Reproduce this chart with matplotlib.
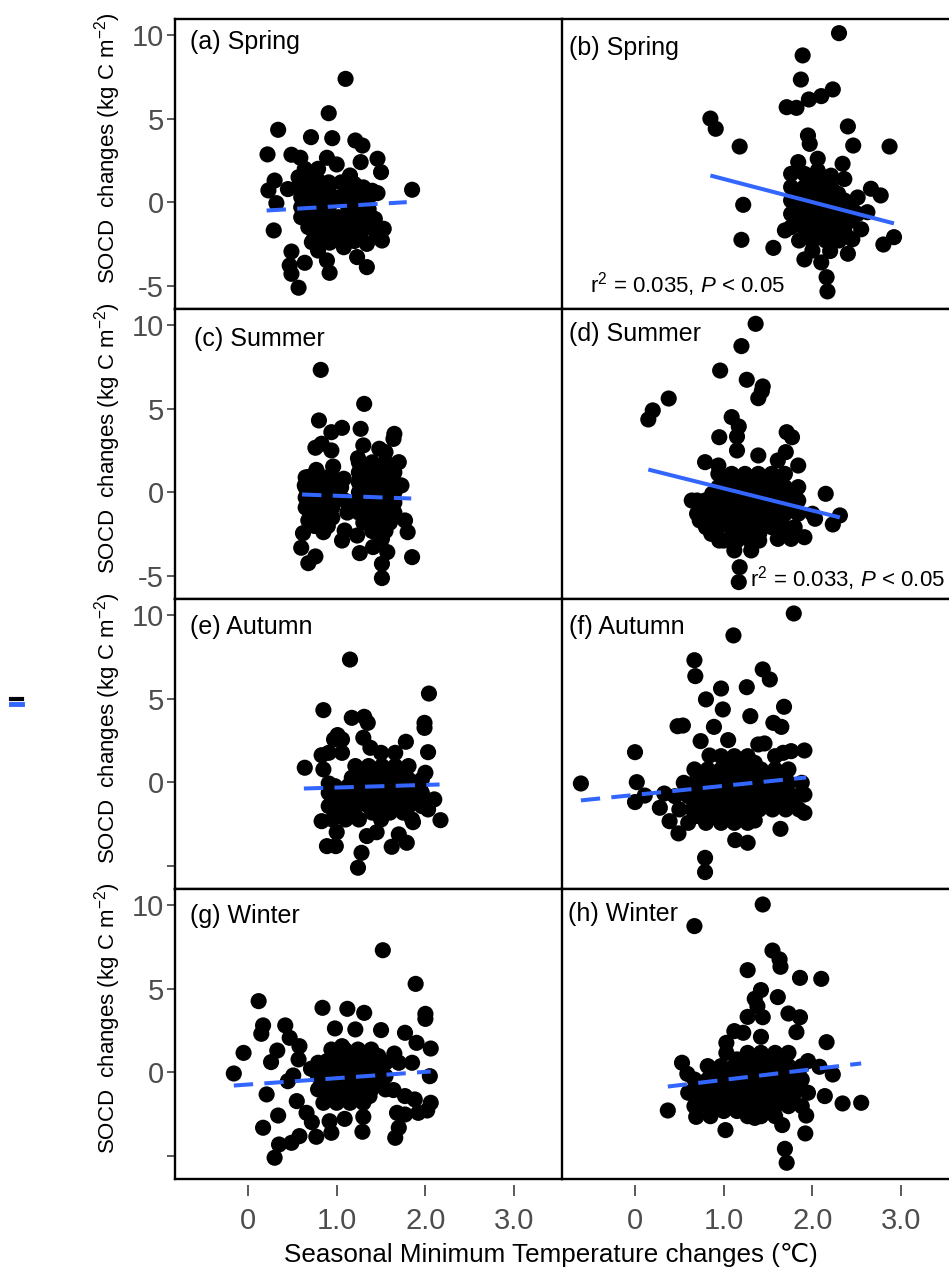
import matplotlib
matplotlib.use('Agg')
import matplotlib.pyplot as plt
from matplotlib.lines import Line2D

plt.rcParams['font.family'] = ['Liberation Sans', 'DejaVu Sans']
plt.rcParams['mathtext.fontset'] = 'custom'
plt.rcParams['mathtext.rm'] = 'Liberation Sans'
plt.rcParams['mathtext.it'] = 'Liberation Sans:italic'

# ---- data (x = Tmin change, y = SOCD change) ----
pts_a = [(1.10, 7.38), (0.91, 5.33), (0.34, 4.34), (0.71, 3.90), (0.95, 3.84), (1.21, 3.70), (1.29, 3.40),
         (0.22, 2.87), (0.49, 2.85), (0.59, 2.67), (0.89, 2.67), (1.00, 2.27), (1.27, 2.41), (1.46, 2.61),
         (1.50, 1.81), (0.64, 2.01), (0.79, 2.01), (1.15, 1.61), (0.30, 1.31), (0.23, 0.72), (0.45, 0.80),
         (1.85, 0.76), (1.46, 0.56), (0.32, -0.04), (0.29, -1.67), (0.49, -2.93), (0.64, -3.60), (0.47, -3.76),
         (0.49, -4.26), (0.57, -5.09), (0.92, -4.20), (0.89, -3.46), (1.23, -3.26), (1.34, -3.86), (1.08, -2.67),
         (1.51, -2.27), (1.53, -1.57), (1.43, -0.98), (1.34, -2.47), (0.79, -2.87), (0.72, -2.37), (1.06, -1.57),
         (1.23, -1.77), (1.24, -0.68),
         (0.57, 1.51), (0.68, 1.51), (0.79, 1.30), (0.91, 1.20), (0.57, 0.92), (0.68, 0.92), (0.79, 0.92),
         (0.91, 0.92), (0.60, 0.32), (0.68, 0.32), (0.79, 0.32), (0.91, 0.32), (0.60, -0.28), (0.68, -0.28),
         (0.79, -0.28), (0.91, -0.28), (0.60, -0.88), (0.68, -0.88), (0.79, -0.88), (0.91, -0.88),
         (0.68, -1.47), (0.79, -1.47), (0.91, -1.47), (0.75, -2.07), (0.85, -2.07), (0.80, -2.60), (0.92, -2.40),
         (1.05, 1.20), (1.20, 1.10), (1.30, 0.90), (1.40, 0.70), (1.02, 0.30), (1.13, 0.50), (1.24, 0.40),
         (1.36, 0.30), (1.13, -0.28), (1.24, -0.28), (1.36, -0.40), (1.02, -0.88), (1.13, -0.80), (1.30, -0.90),
         (1.40, -1.20), (1.13, -1.47), (1.30, -1.60), (1.45, -1.90), (1.10, -2.20), (1.20, -2.30), (1.00, -1.90)]
core_a = [(0.74, 0.62), (0.85, 0.62), (0.74, 0.02), (0.85, 0.02), (0.74, -0.58), (0.85, -0.58), (0.74, -1.18),
          (0.85, -1.18), (1.18, 0.00), (1.30, 0.00), (1.18, -0.55), (1.30, -0.55), (1.20, -1.20)]

pts_b = [(2.30, 10.11), (1.89, 8.78), (1.87, 7.34), (2.23, 6.75), (2.10, 6.35), (1.96, 6.15), (1.82, 5.65),
         (1.71, 5.69), (0.85, 5.01), (0.91, 4.40), (2.40, 4.54), (1.18, 3.34), (2.46, 3.40), (2.87, 3.34),
         (1.95, 4.00), (1.97, 3.50), (1.22, -0.14), (1.20, -2.23), (1.56, -2.71), (1.91, -3.40), (2.10, -3.58),
         (2.16, -4.46), (2.17, -5.31), (2.92, -2.07), (2.80, -2.51), (2.66, 0.82), (2.77, 0.42), (2.62, -0.58),
         (2.40, -3.06), (1.69, -1.67), (1.76, 1.71), (1.84, 2.41), (2.06, 2.61), (2.34, 2.31),
         (1.76, 0.92), (1.91, 0.92), (2.06, 0.92), (2.21, 0.92), (2.36, 1.40), (1.91, 1.71), (2.06, 1.90),
         (2.21, 1.60), (1.76, 0.12), (1.91, 0.12), (2.06, 0.12), (2.21, 0.12), (2.36, 0.12), (2.51, 0.30),
         (1.76, -0.68), (1.91, -0.68), (2.06, -0.68), (2.21, -0.68), (2.36, -0.68), (2.51, -0.68),
         (1.76, -1.47), (1.91, -1.47), (2.06, -1.47), (2.21, -1.47), (2.36, -1.47), (2.55, -1.60),
         (1.85, -2.27), (2.00, -2.27), (2.15, -2.27), (2.30, -2.27), (2.45, -2.20), (2.00, -2.87), (2.20, -2.90)]
core_b = [(1.84, 0.52), (1.99, 0.52), (2.14, 0.52), (2.29, 0.52), (1.84, -0.28), (1.99, -0.28), (2.14, -0.28),
          (2.29, -0.28), (2.44, -0.28), (1.84, -1.07), (1.99, -1.07), (2.14, -1.07), (2.29, -1.07), (2.44, -1.07),
          (1.92, -1.87), (2.07, -1.87), (2.22, -1.87), (2.37, -1.87), (1.99, 1.30), (2.14, 1.30)]

pts_c = [(0.82, 7.32), (1.31, 5.29), (0.80, 4.30), (1.06, 3.86), (0.94, 3.60), (1.27, 3.80), (1.65, 3.50),
         (1.64, 3.20), (1.30, 2.81), (1.24, 2.05), (0.76, 2.67), (0.83, 2.91), (0.94, 2.51), (1.48, 2.61),
         (1.55, 2.41), (1.70, 1.81), (0.96, 1.55), (0.77, 1.35), (0.68, 0.92), (0.64, 0.42), (1.08, 0.82),
         (1.26, 0.82), (1.73, 0.42), (0.62, -2.43), (0.60, -3.30), (0.68, -4.22), (0.76, -3.82), (0.85, -2.37),
         (1.06, -2.87), (1.26, -3.62), (1.51, -4.26), (1.51, -5.11), (1.57, -3.56), (1.85, -3.86), (1.80, -2.37),
         (1.41, -3.26), (1.51, -2.77), (1.23, -2.57), (1.09, -2.27), (0.68, -1.67), (1.77, -1.67),
         (0.65, 0.90), (0.75, 0.90), (0.85, 0.90), (0.95, 0.90), (0.65, 0.30), (0.75, 0.30), (0.85, 0.30),
         (0.95, 0.30), (0.65, -0.30), (0.75, -0.30), (0.85, -0.30), (0.95, -0.30), (0.65, -0.90), (0.75, -0.90),
         (0.85, -0.90), (0.95, -0.90), (0.70, -1.50), (0.85, -1.50), (0.95, -1.50), (0.75, -2.00), (0.90, -2.00),
         (1.25, 1.80), (1.40, 1.80), (1.55, 1.80), (1.25, 1.20), (1.35, 1.20), (1.45, 1.20), (1.55, 1.20),
         (1.65, 1.20), (1.25, 0.60), (1.35, 0.60), (1.45, 0.60), (1.55, 0.60), (1.65, 0.60), (1.25, 0.00),
         (1.35, 0.00), (1.45, 0.00), (1.55, 0.00), (1.65, 0.00), (1.25, -0.60), (1.35, -0.60), (1.45, -0.60),
         (1.55, -0.60), (1.65, -0.60), (1.25, -1.20), (1.35, -1.20), (1.45, -1.20), (1.55, -1.20), (1.65, -1.20),
         (1.30, -1.80), (1.45, -1.80), (1.60, -1.80), (1.40, -2.30), (1.55, -2.30),
         (1.05, 0.30), (1.10, -0.50), (1.12, -1.20)]
core_c = [(0.70, 0.60), (0.80, 0.60), (0.90, 0.60), (0.70, 0.00), (0.80, 0.00), (0.90, 0.00), (0.70, -0.60),
          (0.80, -0.60), (0.90, -0.60), (0.80, -1.20), (1.30, 1.50), (1.40, 1.50), (1.50, 1.50), (1.30, 0.90),
          (1.40, 0.90), (1.50, 0.90), (1.60, 0.90), (1.30, 0.30), (1.40, 0.30), (1.50, 0.30), (1.60, 0.30),
          (1.30, -0.30), (1.40, -0.30), (1.50, -0.30), (1.60, -0.30), (1.30, -0.90), (1.40, -0.90), (1.50, -0.90),
          (1.60, -0.90), (1.40, -1.50), (1.50, -1.50)]

pts_d = [(1.36, 10.07), (1.20, 8.74), (0.96, 7.28), (1.26, 6.73), (1.44, 6.33), (1.43, 6.05), (1.39, 5.63),
         (0.38, 5.61), (0.20, 4.90), (0.15, 4.36), (1.09, 4.50), (1.17, 3.94), (0.95, 3.30), (1.15, 3.34),
         (1.71, 3.60), (1.77, 3.30), (1.70, 2.41), (1.84, 1.61), (2.15, -0.08), (2.31, -1.37), (2.23, -1.91),
         (0.79, 1.81), (0.64, -0.48), (0.95, -2.87), (1.12, -3.46), (1.31, -3.46), (1.18, -4.46), (1.17, -5.35),
         (1.76, -2.77), (1.91, -2.67), (1.61, -2.77), (2.03, -1.57), (0.73, -1.67), (0.86, -2.47), (1.39, 2.21),
         (1.15, 2.51), (1.61, 1.91), (0.94, 1.61),
         (0.94, 1.11), (1.09, 1.11), (1.24, 1.11), (1.39, 1.11), (1.54, 1.11), (1.69, 1.11),
         (0.94, 0.32), (1.09, 0.32), (1.24, 0.32), (1.39, 0.32), (1.54, 0.32), (1.69, 0.32), (1.84, 0.32),
         (0.70, -0.48), (0.79, -0.48), (0.94, -0.48), (1.09, -0.48), (1.24, -0.48), (1.39, -0.48), (1.54, -0.48),
         (1.69, -0.48), (1.84, -0.48), (0.70, -1.27), (0.79, -1.27), (0.94, -1.27), (1.09, -1.27), (1.24, -1.27),
         (1.39, -1.27), (1.54, -1.27), (1.69, -1.27), (1.84, -1.27), (2.00, -1.27), (0.80, -2.07), (0.94, -2.07),
         (1.09, -2.07), (1.24, -2.07), (1.39, -2.07), (1.54, -2.07), (1.69, -2.07), (1.80, -2.07),
         (1.00, -2.87), (1.15, -2.87), (1.30, -2.87), (1.40, -2.87)]
core_d = [(1.02, 0.72), (1.17, 0.72), (1.32, 0.72), (1.47, 0.72), (1.62, 0.72), (0.87, -0.08), (1.02, -0.08),
          (1.17, -0.08), (1.32, -0.08), (1.47, -0.08), (1.62, -0.08), (1.77, -0.08), (0.87, -0.88), (1.02, -0.88),
          (1.17, -0.88), (1.32, -0.88), (1.47, -0.88), (1.62, -0.88), (1.77, -0.88), (0.87, -1.67), (1.02, -1.67),
          (1.17, -1.67), (1.32, -1.67), (1.47, -1.67), (1.62, -1.67), (1.10, -2.47), (1.25, -2.47), (1.40, -2.47)]

pts_e = [(1.15, 7.34), (2.04, 5.31), (0.85, 4.32), (1.17, 3.86), (1.31, 3.92), (1.35, 3.56), (1.99, 3.56),
         (1.99, 3.26), (1.78, 2.43), (2.03, 1.81), (1.01, 2.83), (1.30, 2.67), (1.38, 2.07), (0.83, 1.63),
         (0.64, 0.88), (0.85, 0.78), (2.00, 0.58), (1.94, -0.22), (2.10, -1.01), (2.17, -2.25), (0.83, -2.31),
         (1.00, -2.97), (0.89, -3.80), (0.99, -3.80), (1.28, -4.20), (1.24, -5.09), (1.45, -2.97), (1.34, -3.20),
         (1.62, -3.84), (1.79, -3.60), (1.70, -3.10), (1.86, -2.37), (2.03, -1.61), (1.17, 0.28), (0.91, -0.06),
         (0.97, 2.57), (1.06, 2.57), (0.91, 1.77), (1.06, 1.77), (1.50, 1.77), (1.66, 1.77),
         (1.21, 0.98), (1.36, 0.98), (1.51, 0.98), (1.66, 0.98), (1.81, 0.98),
         (1.21, 0.18), (1.36, 0.18), (1.51, 0.18), (1.66, 0.18), (1.81, 0.18), (1.96, 0.18),
         (0.91, -0.62), (1.06, -0.62), (1.21, -0.62), (1.36, -0.62), (1.51, -0.62), (1.66, -0.62), (1.81, -0.62),
         (1.96, -0.62), (0.91, -1.41), (1.06, -1.41), (1.21, -1.41), (1.36, -1.41), (1.51, -1.41), (1.66, -1.41),
         (1.81, -1.41), (1.96, -1.41), (0.95, -2.21), (1.10, -2.21), (1.25, -2.21), (1.50, -2.21), (1.85, -2.21)]
core_e = [(1.28, 0.58), (1.43, 0.58), (1.58, 0.58), (1.73, 0.58), (0.98, -0.22), (1.13, -0.22), (1.28, -0.22),
          (1.43, -0.22), (1.58, -0.22), (1.73, -0.22), (1.88, -0.22), (0.98, -1.01), (1.13, -1.01), (1.28, -1.01),
          (1.43, -1.01), (1.58, -1.01), (1.73, -1.01), (1.88, -1.01), (1.00, -1.80), (1.20, -1.80), (1.40, -1.80),
          (1.60, -1.80), (1.75, -1.80)]

pts_f = [(1.79, 10.09), (1.11, 8.78), (0.67, 7.30), (0.68, 6.35), (1.44, 6.75), (1.52, 6.15), (0.97, 5.61),
         (1.26, 5.69), (0.80, 4.96), (0.99, 4.36), (1.68, 4.52), (1.30, 3.96), (1.56, 3.56), (1.65, 3.32),
         (0.48, 3.36), (0.54, 3.40), (0.89, 3.32), (0.74, 2.47), (1.05, 2.53), (0.00, 1.81), (0.84, 1.61),
         (1.39, 2.27), (1.46, 2.33), (1.91, 1.91), (1.76, 1.87), (1.67, 1.77), (-0.61, -0.06), (0.02, 0.02),
         (0.00, -1.17), (0.11, -0.78), (0.33, -0.66), (0.28, -1.51), (0.39, -2.31), (0.49, -3.04), (0.55, -0.02),
         (0.79, -4.50), (0.79, -5.35), (1.13, -3.44), (1.27, -3.60), (1.64, -2.77), (1.91, -1.81), (1.91, -0.72),
         (1.88, -0.02), (1.35, -2.27),
         (0.97, 1.57), (1.12, 1.57), (1.27, 1.57), (1.58, 1.57),
         (0.67, 0.78), (0.82, 0.78), (0.97, 0.78), (1.12, 0.78), (1.27, 0.78), (1.42, 0.78), (1.58, 0.78),
         (1.73, 0.78), (0.67, -0.02), (0.82, -0.02), (0.97, -0.02), (1.12, -0.02), (1.27, -0.02), (1.42, -0.02),
         (1.58, -0.02), (1.73, -0.02), (0.45, -0.82), (0.60, -0.82), (0.75, -0.82), (0.90, -0.82), (1.05, -0.82),
         (1.20, -0.82), (1.35, -0.82), (1.50, -0.82), (1.65, -0.82), (1.80, -0.82), (0.50, -1.61), (0.65, -1.61),
         (0.80, -1.61), (0.95, -1.61), (1.10, -1.61), (1.25, -1.61), (1.40, -1.61), (1.55, -1.61), (1.70, -1.61),
         (1.85, -1.61), (0.60, -2.41), (0.80, -2.41), (0.97, -2.41), (1.12, -2.41), (1.27, -2.41)]
core_f = [(1.05, 1.17), (1.20, 1.17), (1.35, 1.17), (0.75, 0.38), (0.90, 0.38), (1.05, 0.38), (1.20, 0.38),
          (1.35, 0.38), (1.50, 0.38), (1.65, 0.38), (0.60, -0.42), (0.75, -0.42), (0.90, -0.42), (1.05, -0.42),
          (1.20, -0.42), (1.35, -0.42), (1.50, -0.42), (1.65, -0.42), (0.67, -1.21), (0.82, -1.21), (0.97, -1.21),
          (1.12, -1.21), (1.27, -1.21), (1.42, -1.21), (1.57, -1.21), (1.72, -1.21), (0.70, -2.00), (0.88, -2.00),
          (1.05, -2.00), (1.20, -2.00)]

pts_g = [(1.52, 7.30), (1.89, 5.29), (0.12, 4.26), (0.84, 3.86), (1.12, 3.80), (1.31, 3.56), (2.00, 3.50),
         (2.00, 3.20), (0.17, 2.81), (0.15, 2.31), (0.42, 2.81), (0.98, 2.63), (1.21, 2.57), (1.50, 2.53),
         (1.77, 2.37), (0.47, 2.07), (0.58, 1.57), (-0.05, 1.17), (0.33, 1.31), (0.26, 0.62), (0.57, 0.78),
         (1.90, 1.77), (2.06, 1.43), (1.65, 1.13), (1.85, 0.58), (0.71, 0.22), (-0.16, -0.06), (0.51, -0.18),
         (0.45, -0.52), (2.05, -0.22), (0.21, -1.31), (0.55, -1.71), (0.34, -2.57), (0.17, -3.30), (0.35, -4.30),
         (0.49, -4.20), (0.58, -3.80), (0.30, -5.09), (0.77, -3.84), (0.94, -3.60), (0.72, -2.97), (0.66, -2.41),
         (1.29, -3.54), (1.30, -2.65), (1.09, -2.77), (0.92, -2.91), (1.66, -3.90), (1.70, -3.30), (1.68, -2.41),
         (1.77, -2.51), (1.92, -2.41), (2.02, -2.27), (2.06, -1.81), (1.88, -1.61), (1.64, -1.05), (1.77, -1.41),
         (1.06, 1.57), (0.89, 0.68),
         (0.94, 1.37), (1.09, 1.37), (1.24, 1.37), (1.39, 1.37),
         (0.79, 0.58), (0.94, 0.58), (1.09, 0.58), (1.24, 0.58), (1.39, 0.58), (1.55, 0.58), (1.70, 0.58),
         (0.79, -0.22), (0.94, -0.22), (1.09, -0.22), (1.24, -0.22), (1.39, -0.22), (1.55, -0.22),
         (0.79, -1.01), (0.94, -1.01), (1.09, -1.01), (1.24, -1.01), (1.39, -1.01), (1.55, -1.01),
         (0.85, -1.81), (1.00, -1.81), (1.15, -1.81), (1.30, -1.81)]
core_g = [(1.02, 0.98), (1.17, 0.98), (1.32, 0.98), (1.47, 0.98), (0.86, 0.18), (1.02, 0.18), (1.17, 0.18),
          (1.32, 0.18), (1.47, 0.18), (0.86, -0.62), (1.02, -0.62), (1.17, -0.62), (1.32, -0.62), (1.47, -0.62),
          (0.92, -1.41), (1.07, -1.41), (1.22, -1.41), (1.37, -1.41)]

pts_h = [(1.44, 10.03), (0.67, 8.74), (1.55, 7.28), (1.63, 6.75), (1.64, 6.31), (1.27, 6.11), (1.86, 5.65),
         (2.10, 5.59), (1.42, 4.92), (1.35, 4.40), (1.38, 3.96), (1.61, 4.50), (1.27, 3.32), (1.44, 3.30),
         (1.73, 3.52), (1.86, 3.30), (1.12, 2.47), (1.22, 2.37), (1.82, 2.41), (2.16, 1.81), (1.03, 1.77),
         (1.42, 2.13), (0.53, 0.58), (0.59, -0.08), (2.23, -0.12), (2.14, -1.41), (2.34, -1.85), (2.55, -1.81),
         (0.37, -2.27), (0.69, -2.65), (1.02, -3.44), (1.93, -2.57), (1.92, -3.64), (1.69, -4.56), (1.71, -5.39),
         (1.66, -3.14), (1.35, -2.71), (1.95, 0.68), (2.08, 0.34),
         (1.03, 1.17), (1.27, 1.17), (1.42, 1.17), (1.58, 1.17), (1.73, 1.17),
         (0.82, 0.38), (0.97, 0.38), (1.12, 0.38), (1.27, 0.38), (1.42, 0.38), (1.58, 0.38), (1.73, 0.38),
         (1.88, 0.38), (0.67, -0.42), (0.82, -0.42), (0.97, -0.42), (1.12, -0.42), (1.27, -0.42), (1.42, -0.42),
         (1.58, -0.42), (1.73, -0.42), (1.88, -0.42), (0.60, -1.21), (0.75, -1.21), (0.90, -1.21), (1.05, -1.21),
         (1.20, -1.21), (1.35, -1.21), (1.50, -1.21), (1.65, -1.21), (1.80, -1.21), (1.95, -1.21),
         (0.67, -2.01), (0.82, -2.01), (0.97, -2.01), (1.12, -2.01), (1.27, -2.01), (1.42, -2.01), (1.58, -2.01),
         (1.73, -2.01), (1.88, -2.01), (0.85, -2.61), (1.27, -2.61), (1.42, -2.61), (1.58, -2.61)]
core_h = [(1.15, 0.78), (1.35, 0.78), (1.50, 0.78), (1.65, 0.78), (0.90, -0.02), (1.05, -0.02), (1.20, -0.02),
          (1.35, -0.02), (1.50, -0.02), (1.65, -0.02), (1.80, -0.02), (0.75, -0.82), (0.90, -0.82), (1.05, -0.82),
          (1.20, -0.82), (1.35, -0.82), (1.50, -0.82), (1.65, -0.82), (1.80, -0.82), (0.70, -1.61), (0.85, -1.61),
          (1.00, -1.61), (1.15, -1.61), (1.30, -1.61), (1.45, -1.61), (1.60, -1.61), (1.75, -1.61), (1.00, -2.30),
          (1.15, -2.30), (1.35, -2.30), (1.50, -2.30)]

# fitted lines: (x_start, x_end), (y_start, y_end)
fit_a = ([0.21, 1.79], [-0.48, 0.02])
fit_b = ([0.85, 2.92], [1.61, -1.25])
fit_c = ([0.61, 1.84], [-0.12, -0.36])
fit_d = ([0.15, 2.31], [1.37, -1.49])
fit_e = ([0.63, 2.16], [-0.36, -0.12])
fit_f = ([-0.61, 1.93], [-1.07, 0.30])
fit_g = ([-0.16, 2.06], [-0.78, 0.06])
fit_h = ([0.37, 2.55], [-0.84, 0.54])

labels = ['(a) Spring', '(b) Spring', '(c) Summer', '(d) Summer',
          '(e) Autumn', '(f) Autumn', '(g) Winter', '(h) Winter']
stats_b = r'r$^{2}$ = 0.035, $P$ < 0.05'
stats_d = r'r$^{2}$ = 0.033, $P$ < 0.05'

xticks = [0, 1, 2, 3]
xtick_labels = ['0', '1.0', '2.0', '3.0']
yticks = [-5, 0, 5, 10]

panels = [
    (pts_a + core_a, fit_a, False, None), (pts_b + core_b, fit_b, True, stats_b),
    (pts_c + core_c, fit_c, False, None), (pts_d + core_d, fit_d, True, stats_d),
    (pts_e + core_e, fit_e, False, None), (pts_f + core_f, fit_f, False, None),
    (pts_g + core_g, fit_g, False, None), (pts_h + core_h, fit_h, False, None),
]
label_pos = [(0.039, 0.92), (0.018, 0.90), (0.049, 0.897), (0.018, 0.914),
             (0.039, 0.903), (0.018, 0.903), (0.039, 0.907), (0.016, 0.915)]
stats_pos = {1: (0.072, 0.086), 3: (0.486, 0.072)}

W, H = 949, 1275
fig = plt.figure(figsize=(W / 100, H / 100), dpi=100)

gray = '#4d4d4d'
blue = '#3366FF'

for i, (pts, fit, solid, note) in enumerate(panels):
    row, col = divmod(i, 2)
    left = 175 if col == 0 else 562
    top = 19 + 290 * row
    ax = fig.add_axes([left / W, 1 - (top + 290) / H, 387 / W, 290 / H])

    xs = [p[0] for p in pts]
    ys = [p[1] for p in pts]
    ax.scatter(xs, ys, s=135, color='black', edgecolors='none', zorder=2)
    if solid:
        ax.plot(fit[0], fit[1], color=blue, lw=2.9, zorder=3, solid_capstyle='butt')
    else:
        ax.plot(fit[0], fit[1], color=blue, lw=2.9, zorder=3, dashes=(4.8, 2.8))

    ax.set_xlim(-0.823, 3.54)
    ax.set_ylim(-6.36, 10.955)

    for sp in ax.spines.values():
        sp.set_linewidth(1.7)
        sp.set_color('black')
    ax.spines['right'].set_visible(False)
    if col == 0:
        ax.set_yticks(yticks)
        if row < 2:
            ax.set_yticklabels(['-5', '0', '5', '10'])
        else:
            ax.set_yticklabels(['', '0', '5', '10'])
        ax.tick_params(axis='y', direction='out', length=6, width=1.3, color=gray,
                       labelcolor=gray, labelsize=21, pad=2)
        ax.text(-0.173, 0.553, 'SOCD  changes (kg C m$^{-2}$)', transform=ax.transAxes,
                rotation=90, ha='center', va='center', fontsize=16)
    else:
        ax.set_yticks([])

    if row == 3:
        ax.spines['bottom'].set_position(('outward', 4))
        ax.spines['bottom'].set_visible(False)
        ax.plot([0, 1], [0, 0], transform=ax.transAxes, color='black', lw=1.7, clip_on=False)
        ax.set_xticks(xticks)
        ax.set_xticklabels(xtick_labels)
        ax.tick_params(axis='x', direction='out', length=8, width=1.3, color=gray,
                       labelcolor=gray, labelsize=21, pad=8)
    else:
        ax.set_xticks([])

    tx, ty = label_pos[i]
    ax.text(tx, ty, labels[i], transform=ax.transAxes, fontsize=18, ha='left', va='center')
    if note:
        sx, sy = stats_pos[i]
        ax.text(sx, sy, note, transform=ax.transAxes, fontsize=16, ha='left', va='center')

fig.text(0.581, 0.0157, 'Seasonal Minimum Temperature changes (\u2103)', ha='center', va='center',
         fontsize=18.7)

# small stray legend key at the left margin
fig.add_artist(Line2D([11 / W, 22 / W], [1 - 699 / H, 1 - 699 / H], color='black', lw=3))
fig.add_artist(Line2D([11 / W, 22 / W], [1 - 704 / H, 1 - 704 / H], color=blue, lw=3.5))

fig.savefig('out.png', dpi=100)
